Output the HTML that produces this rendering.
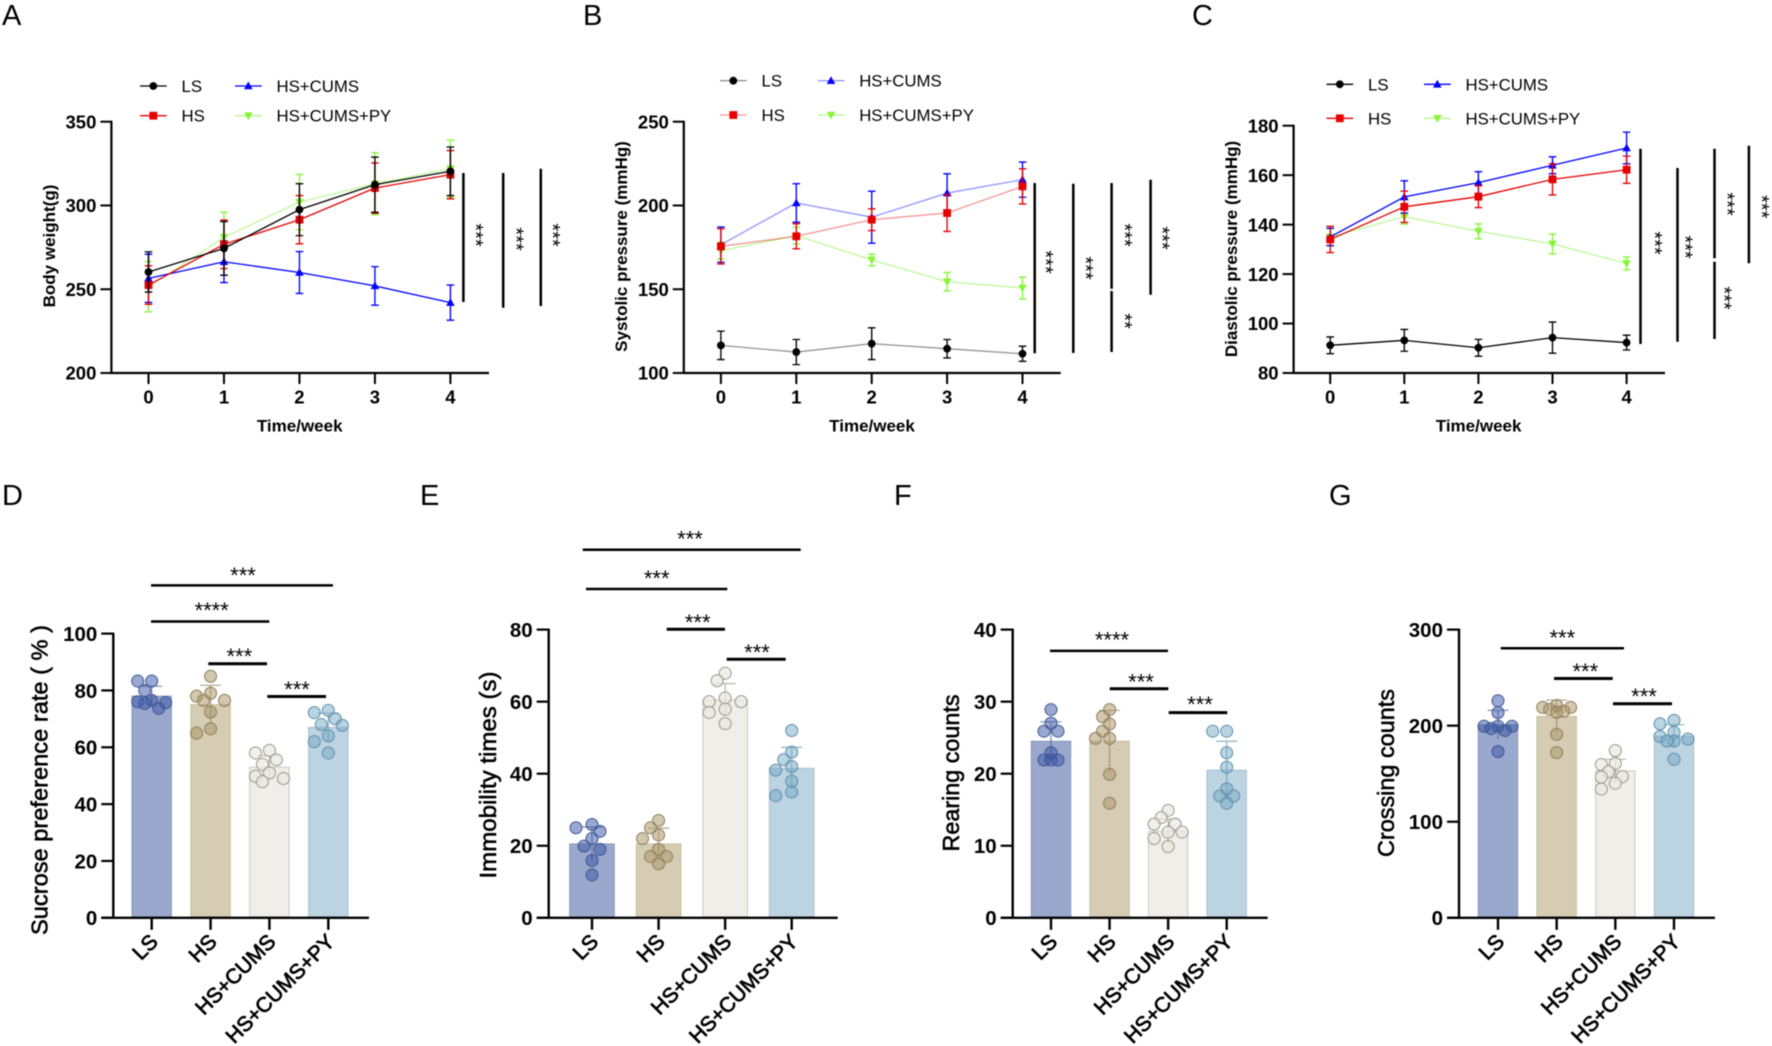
<!DOCTYPE html>
<html lang="en">
<head>
<meta charset="utf-8">
<title>Body weight, blood pressure and behaviour panels</title>
<style>
html,body{margin:0;padding:0;background:#fff;width:1772px;height:1046px;overflow:hidden}
svg{display:block;filter:blur(.4px)}
text{font-family:"Liberation Sans",Arial,sans-serif;fill:#000}
.letter{font-size:29px}
.sig{stroke:#000;fill:none}
.s1{stroke-width:2.5}
.s2{stroke-width:3}
.st{font-size:22px;text-anchor:middle}
.sr{font-size:20px;text-anchor:middle}
.title-top{font-size:17px;font-weight:700;text-anchor:middle}
.title-bar{font-size:23px;text-anchor:middle;stroke:#000;stroke-width:.55}
.leg{font-size:16.8px}
</style>
</head>
<body>
<svg id="fig" xmlns="http://www.w3.org/2000/svg" width="1772" height="1046" viewBox="0 0 1772 1046">
  <rect x="0" y="0" width="1772" height="1046" fill="#fff"/>

  <text class="letter" x="2" y="25">A</text>
  <text class="letter" x="583" y="25">B</text>
  <text class="letter" x="1192" y="25">C</text>
  <text class="letter" x="2" y="505">D</text>
  <text class="letter" x="420" y="505">E</text>
  <text class="letter" x="894" y="505">F</text>
  <text class="letter" x="1329" y="505">G</text>

  <text class="title-top" transform="translate(55,246) rotate(-90)">Body weight(g)</text>
  <text class="title-top" transform="translate(627,246.5) rotate(-90)">Systolic pressure (mmHg)</text>
  <text class="title-top" transform="translate(1237,249) rotate(-90)">Diastolic pressure (mmHg)</text>
  <text class="title-top" x="299.7" y="431.5">Time/week</text>
  <text class="title-top" x="872" y="431.5">Time/week</text>
  <text class="title-top" x="1478.6" y="431.5">Time/week</text>

  <text class="title-bar" transform="translate(47.5,780) rotate(-90)" textLength="310" lengthAdjust="spacingAndGlyphs">Sucrose preference rate ( % )</text>
  <text class="title-bar" transform="translate(496,775) rotate(-90)" textLength="207" lengthAdjust="spacingAndGlyphs">Immobility times (s)</text>
  <text class="title-bar" transform="translate(959,773) rotate(-90)" textLength="157" lengthAdjust="spacingAndGlyphs">Rearing counts</text>
  <text class="title-bar" transform="translate(1394,773) rotate(-90)" textLength="168" lengthAdjust="spacingAndGlyphs">Crossing counts</text>

  <g>
    <line class="sig s1" x1="463.4" y1="173" x2="463.4" y2="302"/>
    <line class="sig s1" x1="503.2" y1="173" x2="503.2" y2="307.7"/>
    <line class="sig s1" x1="540.8" y1="168.7" x2="540.8" y2="306"/>
    <text class="sr" transform="translate(480,235) rotate(90)" y="11">***</text>
    <text class="sr" transform="translate(520.5,239) rotate(90)" y="11">***</text>
    <text class="sr" transform="translate(557,235) rotate(90)" y="11">***</text>
  </g>
  <g>
    <line class="sig s1" x1="1034.7" y1="183" x2="1034.7" y2="353.3"/>
    <line class="sig s1" x1="1073.3" y1="183.7" x2="1073.3" y2="353"/>
    <line class="sig s1" x1="1111.6" y1="183" x2="1111.6" y2="288.7"/>
    <line class="sig s1" x1="1111.6" y1="291" x2="1111.6" y2="352"/>
    <line class="sig s1" x1="1150.6" y1="179.7" x2="1150.6" y2="294.7"/>
    <text class="sr" transform="translate(1050,262) rotate(90)" y="11">***</text>
    <text class="sr" transform="translate(1090,268) rotate(90)" y="11">***</text>
    <text class="sr" transform="translate(1129,235) rotate(90)" y="11">***</text>
    <text class="sr" transform="translate(1129,321) rotate(90)" y="11">**</text>
    <text class="sr" transform="translate(1166.7,238) rotate(90)" y="11">***</text>
  </g>
  <g>
    <line class="sig s1" x1="1640.5" y1="148.7" x2="1640.5" y2="344"/>
    <line class="sig s1" x1="1677.5" y1="168" x2="1677.5" y2="341.7"/>
    <line class="sig s1" x1="1714.5" y1="148.7" x2="1714.5" y2="258.3"/>
    <line class="sig s1" x1="1714.5" y1="261.7" x2="1714.5" y2="339"/>
    <line class="sig s1" x1="1748.9" y1="145.7" x2="1748.9" y2="263.3"/>
    <text class="sr" transform="translate(1659,243) rotate(90)" y="11">***</text>
    <text class="sr" transform="translate(1689.6,247) rotate(90)" y="11">***</text>
    <text class="sr" transform="translate(1731.5,204) rotate(90)" y="11">***</text>
    <text class="sr" transform="translate(1728.5,298) rotate(90)" y="11">***</text>
    <text class="sr" transform="translate(1766,206.7) rotate(90)" y="11">***</text>
  </g>

  <g>
    <line class="sig s1" x1="151" y1="585.4" x2="333" y2="585.4"/>
    <line class="sig s1" x1="151" y1="621.5" x2="269.3" y2="621.5"/>
    <line class="sig s2" x1="208.3" y1="663.7" x2="267" y2="663.7"/>
    <line class="sig s2" x1="267.3" y1="696.5" x2="326" y2="696.5"/>
    <text class="st" x="243" y="583">***</text>
    <text class="st" x="211.7" y="618">****</text>
    <text class="st" x="239.3" y="664">***</text>
    <text class="st" x="297" y="697">***</text>
  </g>
  <g>
    <line class="sig s1" x1="582.7" y1="549.8" x2="800.7" y2="549.8"/>
    <line class="sig s1" x1="586" y1="589" x2="727.3" y2="589"/>
    <line class="sig s2" x1="666.7" y1="629.2" x2="725" y2="629.2"/>
    <line class="sig s2" x1="726.7" y1="659.3" x2="785.7" y2="659.3"/>
    <text class="st" x="690" y="546.4">***</text>
    <text class="st" x="656.7" y="585.8">***</text>
    <text class="st" x="697.7" y="630">***</text>
    <text class="st" x="757" y="660">***</text>
  </g>
  <g>
    <line class="sig s1" x1="1050" y1="650.9" x2="1168" y2="650.9"/>
    <line class="sig s2" x1="1109.7" y1="688.8" x2="1168.3" y2="688.8"/>
    <line class="sig s2" x1="1168.7" y1="712.6" x2="1227.3" y2="712.6"/>
    <text class="st" x="1112" y="647.5">****</text>
    <text class="st" x="1141" y="689.5">***</text>
    <text class="st" x="1200" y="712">***</text>
  </g>
  <g>
    <line class="sig s1" x1="1500.7" y1="648.3" x2="1624" y2="648.3"/>
    <line class="sig s2" x1="1554" y1="678.5" x2="1612.7" y2="678.5"/>
    <line class="sig s2" x1="1613" y1="703.8" x2="1672" y2="703.8"/>
    <text class="st" x="1562.3" y="645.3">***</text>
    <text class="st" x="1585.3" y="679">***</text>
    <text class="st" x="1644" y="704">***</text>
  </g>
</svg>

<script>
// ---------- shared categories ----------
const weeks = [0, 1, 2, 3, 4];
const groups = ['LS', 'HS', 'HS+CUMS', 'HS+CUMS+PY'];

// ---------- panel A: body weight ----------
const weightTicks = [200, 250, 300, 350];
const weightLS = [260.3, 274.4, 297.5, 312.4, 320.4];
const weightLSErr = [12, 16, 15.5, 16.5, 14.5];
const weightHS = [252.5, 276.8, 291.5, 310.4, 318.4];
const weightHSErr = [11.5, 14.5, 14.4, 15, 14.4];
const weightCUMS = [256.5, 266.4, 260, 252, 242];
const weightCUMSErr = [14.4, 12.4, 12.5, 11.5, 10.5];
const weightPY = [251.5, 281, 302, 313, 322];
const weightPYErr = [15, 15, 16.5, 18.5, 17];

// ---------- panel B: systolic pressure ----------
const systolicTicks = [100, 150, 200, 250];
const systolicLS = [116.5, 112.5, 117.5, 114.5, 111.5];
const systolicLSErr = [8.5, 7.5, 9.5, 5.5, 4.5];
const systolicHS = [175.6, 181.6, 191.5, 195.5, 211.4];
const systolicHSErr = [10.5, 7.5, 6.5, 11, 10.5];
const systolicCUMS = [176.6, 201.5, 193, 207.4, 215.4];
const systolicCUMSErr = [10.5, 11.5, 15.5, 11.5, 10.5];
const systolicPY = [173, 182, 167.5, 154.5, 150.7];
const systolicPYErr = [5, 5, 3.5, 5.5, 6.5];

// ---------- panel C: diastolic pressure ----------
const diastolicTicks = [80, 100, 120, 140, 160, 180];
const diastolicLS = [91.2, 93.2, 90.2, 94.3, 92.3];
const diastolicLSErr = [3.4, 4.4, 3.4, 6.3, 3];
const diastolicHS = [134, 147.2, 151.3, 158.3, 162.2];
const diastolicHSErr = [5.3, 6.3, 4.4, 6.3, 5.5];
const diastolicCUMS = [135, 151.2, 157, 164, 171];
const diastolicCUMSErr = [3.5, 6.5, 4.4, 3.4, 6.4];
const diastolicPY = [135, 143.2, 137.3, 132.2, 124.3];
const diastolicPYErr = [3.4, 3, 3, 4, 2.6];

// ---------- panel D: sucrose preference ----------
const sucroseTicks = [0, 20, 40, 60, 80, 100];
const sucroseMeans = [78, 75, 53, 67];
const sucroseSD = [3.5, 6.8, 4, 5];
const sucroseLS = [83.3, 83.3, 80, 76.5, 76, 75.7, 75.4, 73.7];
const sucroseHS = [85, 79, 78, 76.5, 76.5, 72.4, 66.5, 65];
const sucroseCUMS = [58.9, 58, 55.6, 54, 51, 49.8, 49, 47.9];
const sucrosePY = [73, 72.2, 70, 68, 67.7, 64, 62, 58];

// ---------- panel E: immobility ----------
const immobilityTicks = [0, 20, 40, 60, 80];
const immobilityMeans = [20.5, 20.5, 60.5, 41.5];
const immobilitySD = [4.7, 4.4, 4.5, 5.8];
const immobilityLS = [25.9, 25, 24, 22, 19.9, 19, 15.9, 11.9];
const immobilityHS = [27, 25, 23, 22, 19, 17, 17, 15];
const immobilityCUMS = [67.9, 65.8, 61, 60, 60, 57.9, 57, 53.9];
const immobilityPY = [52, 46, 43.9, 42, 41, 37.9, 34.9, 33.9];

// ---------- panel F: rearing ----------
const rearingTicks = [0, 10, 20, 30, 40];
const rearingMeans = [24.5, 24.5, 12, 20.5];
const rearingSD = [2.7, 4.3, 1.7, 4];
const rearingLS = [28.9, 27, 25.9, 25.9, 22.9, 21.9, 21.9, 21.9];
const rearingHS = [28.9, 27.9, 26.9, 25.9, 24.9, 24.9, 19.9, 15.9];
const rearingCUMS = [14.9, 13.9, 13, 13, 11.9, 11.9, 11, 9.9];
const rearingPY = [25.9, 25.9, 22.9, 20.9, 17.9, 16.9, 16.9, 15.9];

// ---------- panel G: crossing ----------
const crossingTicks = [0, 100, 200, 300];
const crossingMeans = [201, 209.5, 153, 189];
const crossingSD = [15, 17, 12, 12];
const crossingLS = [226, 213.6, 199.4, 199.4, 199.4, 197, 195, 173];
const crossingHS = [221, 219, 219, 217, 215, 214, 191, 172];
const crossingCUMS = [174, 160.7, 159.6, 152, 147, 146.6, 140, 134];
const crossingPY = [205.5, 202, 193, 188.7, 186, 184, 184, 165];

// ---------- drawing ----------
const SVGNS = 'http://www.w3.org/2000/svg';
const root = document.getElementById('fig');

function make(tag, attrs, parent, txt) {
  const e = document.createElementNS(SVGNS, tag);
  for (const k in attrs) e.setAttribute(k, attrs[k]);
  if (txt !== undefined) e.textContent = txt;
  parent.appendChild(e);
  return e;
}
function linear(d0, d1, r0, r1) {
  return v => r0 + (v - d0) / (d1 - d0) * (r1 - r0);
}

const lineStyle = {
  'LS':         {color: '#000000', lineColor: '#000000', slug: 'ls',      shape: 'circle'},
  'HS':         {color: '#e60000', lineColor: '#e60000', slug: 'hs',      shape: 'square'},
  'HS+CUMS':    {color: '#0000ff', lineColor: '#0000ff', slug: 'cums',    shape: 'up'},
  'HS+CUMS+PY': {color: '#86f53a', lineColor: '#9cf560', slug: 'cums-py', shape: 'down'}
};

function marker(shape, x, y, color, parent) {
  const r = 3.9;
  if (shape === 'circle') return make('circle', {cx: x, cy: y, r: r, fill: color}, parent);
  if (shape === 'square') return make('rect', {x: x - r, y: y - r, width: 2 * r, height: 2 * r, fill: color}, parent);
  const p = shape === 'up'
    ? [[x, y - r - .6], [x + r + .4, y + r - .6], [x - r - .4, y + r - .6]]
    : [[x, y + r + .6], [x + r + .4, y - r + .6], [x - r - .4, y - r + .6]];
  return make('polygon', {points: p.map(q => q.join(',')).join(' '), fill: color}, parent);
}

function drawLinePanel(cfg) {
  const g = make('g', {}, root);
  
  

  const sx = linear(weeks[0], weeks[weeks.length - 1], cfg.x0, cfg.x4);
  const yTicks = cfg.ticks;
  const sy = linear(yTicks[0], yTicks[yTicks.length - 1], cfg.yBottom, cfg.yTop);

  // series, back to front
  ['HS+CUMS+PY', 'HS+CUMS', 'HS', 'LS'].forEach(name => {
    const st = lineStyle[name];
    const vals = cfg.series[name][0];
    const errs = cfg.series[name][1];
    const sg = make('g', {}, g);
    
    
    const isPY = name === 'HS+CUMS+PY';
    const opacity = isPY ? .75 : cfg.lineOpacity;
    const ln = make('polyline', {
      points: vals.map((v, i) => sx(weeks[i]) + ',' + sy(v)).join(' '),
      fill: 'none', stroke: st.lineColor, 'stroke-width': isPY ? 1.1 : 1.3, 'stroke-opacity': opacity
    }, sg);
    
    
    vals.forEach((v, i) => {
      const x = sx(weeks[i]);
      const eb = make('path', {
        d: 'M' + x + ' ' + sy(v - errs[i]) + 'V' + sy(v + errs[i]) +
           'M' + (x - 3.8) + ' ' + sy(v + errs[i]) + 'h7.6' +
           'M' + (x - 3.8) + ' ' + sy(v - errs[i]) + 'h7.6',
        fill: 'none', stroke: st.color, 'stroke-width': 1.35
      }, sg);
      
      
      const m = marker(st.shape, x, sy(v), st.color, sg);
      
      
    });
  });

  // axes
  const yAxis = make('line', {x1: cfg.axisX, x2: cfg.axisX, y1: cfg.yTop - 1, y2: cfg.yBottom + 1, stroke: '#000', 'stroke-width': 2.2}, g);
  
  
  const xAxis = make('line', {x1: cfg.axisX - 1, x2: cfg.axisEnd, y1: cfg.yBottom, y2: cfg.yBottom, stroke: '#000', 'stroke-width': 2.2}, g);
  
  

  yTicks.forEach(t => {
    const y = sy(t);
    const tk = make('line', {x1: cfg.axisX - 11, x2: cfg.axisX, y1: y, y2: y, stroke: '#000', 'stroke-width': 2}, g);
    
    
    const lb = make('text', {x: cfg.axisX - 15, y: y + 6.7, 'text-anchor': 'end', 'font-size': 18.5, 'font-weight': 700}, g, String(t));
    
    
  });
  weeks.forEach(w => {
    const x = sx(w);
    const tk = make('line', {x1: x, x2: x, y1: cfg.yBottom, y2: cfg.yBottom + 11, stroke: '#000', 'stroke-width': 2}, g);
    
    
    const lb = make('text', {x: x, y: 403.4, 'text-anchor': 'middle', 'font-size': 18.5, 'font-weight': 700}, g, String(w));
    
    
  });

  // legend
  const legend = make('g', {}, g);
  
  
  groups.forEach((name, i) => {
    const st = lineStyle[name];
    const col = i < 2 ? 0 : 1;
    const y = i % 2 === 0 ? cfg.legend.row1 : cfg.legend.row2;
    const xs = col === 0 ? cfg.legend.x1 : cfg.legend.x2;
    const isPY = name === 'HS+CUMS+PY';
    const en = make('g', {}, legend);
    
    
    make('line', {x1: xs, x2: xs + 26.7, y1: y, y2: y, stroke: st.lineColor, 'stroke-width': 1.3, 'stroke-opacity': isPY ? .75 : cfg.lineOpacity}, en);
    marker(st.shape, xs + 13.3, y, st.color, en);
    make('text', {x: xs + 41.5, y: y + 6, class: 'leg'}, en, name);
  });
}

const barStyle = [
  {fill: '#9aa8cd', edge: '#8796bd', dot: 'rgba(58,88,168,.52)',  dotEdge: '#42568f', slug: 'ls'},
  {fill: '#d5ccb3', edge: '#c8bd9f', dot: 'rgba(170,148,100,.52)', dotEdge: '#8c7d5c', slug: 'hs'},
  {fill: '#f0eee8', edge: '#cbc9c2', dot: 'rgba(236,233,224,.72)', dotEdge: '#97968c', slug: 'cums'},
  {fill: '#bcd3e1', edge: '#a8c1d0', dot: 'rgba(115,170,200,.5)', dotEdge: '#5f8ea8', slug: 'cums-py'}
];

// place points in a swarm kept inside the bar: nearest free slot, else the least crowded slot
function swarm(values, y, spacing, minDist) {
  const placed = [];
  const order = [0, -1, 1, -2, 2];
  return values.map(v => {
    const py = y(v);
    let dx = 0, best = -1;
    for (const k of order) {
      const cand = k * spacing;
      const near = placed.reduce((m, p) => Math.min(m, Math.hypot(p[0] - cand, p[1] - py)), Infinity);
      if (near >= minDist) { dx = cand; break; }
      if (near > best) { best = near; dx = cand; }
    }
    placed.push([dx, py]);
    return [dx, py];
  });
}

function drawBarPanel(cfg) {
  const g = make('g', {}, root);
  
  

  const yTicks = cfg.ticks;
  const sy = linear(yTicks[0], yTicks[yTicks.length - 1], cfg.yBottom, cfg.yTop);
  const sx = linear(0, groups.length - 1, cfg.xFirst, cfg.xLast);

  groups.forEach((name, i) => {
    const st = barStyle[i];
    const cx = sx(i);
    const bar = make('rect', {
      x: cx - cfg.half, width: 2 * cfg.half, y: sy(cfg.means[i]),
      height: sy(0) - sy(cfg.means[i]) - 1, fill: st.fill, stroke: st.edge, 'stroke-width': 1
    }, g);
    
    

    const top = sy(cfg.means[i] + cfg.sd[i]);
    const eb = make('path', {
      d: 'M' + cx + ' ' + sy(cfg.means[i] - cfg.sd[i]) + 'V' + top + 'M' + (cx - 10.5) + ' ' + top + 'h21',
      fill: 'none', stroke: st.dotEdge, 'stroke-width': 1.2, 'stroke-opacity': .7
    }, g);
    
    

    swarm(cfg.points[i], sy, cfg.spacing, 10).forEach(p => {
      const d = make('circle', {cx: cx + p[0], cy: p[1], r: 6, fill: st.dot, stroke: st.dotEdge, 'stroke-width': 1}, g);
      
      
    });

    const tk = make('line', {x1: cx, x2: cx, y1: cfg.yBottom, y2: cfg.yBottom + 12, stroke: '#000', 'stroke-width': 2.4}, g);
    
    
    const lb = make('text', {
      transform: 'translate(' + (cx + 7.5) + ',943) rotate(-45)', 'text-anchor': 'end',
      'font-size': 21, 'stroke': '#000', 'stroke-width': .7
    }, g, name);
    
    
  });

  const yAxis = make('line', {x1: cfg.axisX, x2: cfg.axisX, y1: cfg.yTop - 1, y2: cfg.yBottom + 1, stroke: '#000', 'stroke-width': 2.4}, g);
  
  
  const xAxis = make('line', {x1: cfg.axisX - 12, x2: cfg.axisEnd, y1: cfg.yBottom, y2: cfg.yBottom, stroke: '#000', 'stroke-width': 2.4}, g);
  
  

  yTicks.forEach(t => {
    const y = sy(t);
    const tk = make('line', {x1: cfg.axisX - 12, x2: cfg.axisX, y1: y, y2: y, stroke: '#000', 'stroke-width': 2.2}, g);
    
    
    const lb = make('text', {x: cfg.axisX - 16, y: y + 7.4, 'text-anchor': 'end', 'font-size': 20.5, 'font-weight': 700}, g, String(t));
    
    
  });
}

drawLinePanel({
  id: 'a', ticks: weightTicks, axisX: 111.4, axisEnd: 489, x0: 148.5, x4: 450.4, yTop: 121.7, yBottom: 373, lineOpacity: 1,
  legend: {x1: 140, x2: 235, row1: 86, row2: 115.7},
  series: {'LS': [weightLS, weightLSErr], 'HS': [weightHS, weightHSErr], 'HS+CUMS': [weightCUMS, weightCUMSErr], 'HS+CUMS+PY': [weightPY, weightPYErr]}
});
drawLinePanel({
  id: 'b', ticks: systolicTicks, axisX: 683.8, axisEnd: 1060.7, x0: 720.9, x4: 1022.5, yTop: 121.7, yBottom: 373, lineOpacity: .42,
  legend: {x1: 720, x2: 817.7, row1: 80.7, row2: 115},
  series: {'LS': [systolicLS, systolicLSErr], 'HS': [systolicHS, systolicHSErr], 'HS+CUMS': [systolicCUMS, systolicCUMSErr], 'HS+CUMS+PY': [systolicPY, systolicPYErr]}
});
drawLinePanel({
  id: 'c', ticks: diastolicTicks, axisX: 1293.6, axisEnd: 1665, x0: 1330.2, x4: 1626.6, yTop: 125.7, yBottom: 373, lineOpacity: 1,
  legend: {x1: 1326.5, x2: 1424, row1: 84.3, row2: 118.3},
  series: {'LS': [diastolicLS, diastolicLSErr], 'HS': [diastolicHS, diastolicHSErr], 'HS+CUMS': [diastolicCUMS, diastolicCUMSErr], 'HS+CUMS+PY': [diastolicPY, diastolicPYErr]}
});
drawBarPanel({
  id: 'd', ticks: sucroseTicks, means: sucroseMeans, sd: sucroseSD, points: [sucroseLS, sucroseHS, sucroseCUMS, sucrosePY],
  axisX: 113.3, axisEnd: 369, xFirst: 151.7, xLast: 328.3, half: 19.7, spacing: 7, yTop: 633.6, yBottom: 917.8
});
drawBarPanel({
  id: 'e', ticks: immobilityTicks, means: immobilityMeans, sd: immobilitySD, points: [immobilityLS, immobilityHS, immobilityCUMS, immobilityPY],
  axisX: 548.7, axisEnd: 837.7, xFirst: 592, xLast: 791.7, half: 22.3, spacing: 8, yTop: 629.6, yBottom: 917.8
});
drawBarPanel({
  id: 'f', ticks: rearingTicks, means: rearingMeans, sd: rearingSD, points: [rearingLS, rearingHS, rearingCUMS, rearingPY],
  axisX: 1012.7, axisEnd: 1267.7, xFirst: 1051, xLast: 1226.7, half: 19.7, spacing: 7, yTop: 629.6, yBottom: 917.8
});
drawBarPanel({
  id: 'g', ticks: crossingTicks, means: crossingMeans, sd: crossingSD, points: [crossingLS, crossingHS, crossingCUMS, crossingPY],
  axisX: 1459, axisEnd: 1715, xFirst: 1498, xLast: 1674, half: 19.7, spacing: 7, yTop: 629.6, yBottom: 917.8
});
</script>
</body>
</html>
